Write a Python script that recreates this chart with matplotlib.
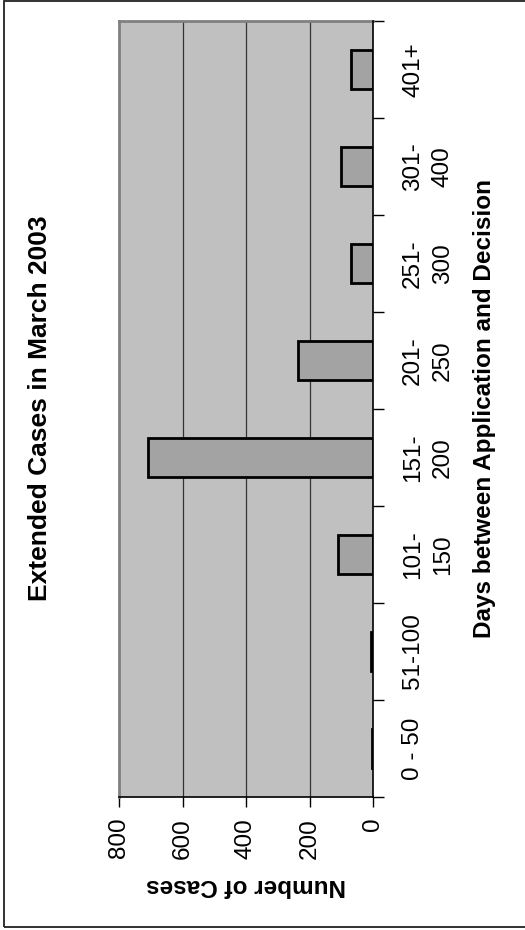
import matplotlib
matplotlib.use("Agg")
import matplotlib.pyplot as plt
from matplotlib.patches import Rectangle
from matplotlib.ticker import FixedLocator
import numpy as np

plt.rcParams['font.family'] = ['Liberation Sans', 'DejaVu Sans']

# Day ranges between application and decision, and number of cases
categories = ["0 - 50", "51-100", "101-\n150", "151-\n200", "201-\n250",
              "251-\n300", "301-\n400", "401+"]
cases = [4, 5, 110, 710, 237, 68, 100, 68]
value_ticks = [0, 200, 400, 600, 800]
value_tick_labels = ["0", "200", "400", "600", "800"]

W, H = 525, 930
fig = plt.figure(figsize=(W / 100, H / 100), dpi=100)
fig.patch.set_facecolor("white")

# Outer frame of the page (open on the right)
fig.add_artist(Rectangle((4 / W, 1 - 927 / H), 1.0, (927 - 1) / H,
                         transform=fig.transFigure, fill=False,
                         edgecolor="#222222", linewidth=1.3))

left, right, top, bottom = 119, 373, 21, 797
ax = fig.add_axes([left / W, 1 - bottom / H, (right - left) / W, (bottom - top) / H])
ax.set_facecolor("#C0C0C0")

pos = np.arange(len(categories))
ax.barh(pos, cases, height=0.4, color="#A3A3A3", edgecolor="black",
        linewidth=2.0, zorder=3)

ax.set_xlim(800, 0)
ax.set_ylim(-0.5, len(categories) - 0.5)

# Gridlines
for v in value_ticks[1:-1]:
    ax.axvline(v, color="#333333", linewidth=0.9, zorder=1)

# Spines: value axis and zero line black, plot-area border grey
for s in ["left", "top"]:
    ax.spines[s].set_color("#808080")
    ax.spines[s].set_linewidth(2.0)
for s in ["right", "bottom"]:
    ax.spines[s].set_color("black")
    ax.spines[s].set_linewidth(1.2)
ax.spines["right"].set_zorder(4)

# Value axis (bottom)
ax.set_xticks(value_ticks)
ax.set_xticklabels(value_tick_labels, rotation=90, va="top", ha="center",
                   fontsize=17.5)
ax.tick_params(axis="x", direction="out", length=7, width=1.0, pad=8)

# Category axis (right side)
ax.yaxis.tick_right()
ax.yaxis.set_major_locator(FixedLocator(np.arange(-0.5, len(categories), 1.0)))
ax.yaxis.set_minor_locator(FixedLocator(pos))
ax.tick_params(axis="y", which="major", direction="out", length=8, width=1.0,
               labelright=False)
ax.tick_params(axis="y", which="minor", length=0, pad=21)
for lbl, txt in zip(ax.set_yticklabels(categories, minor=True, rotation=90,
                                       fontsize=17.5, va="center", ha="left",
                                       multialignment="center"), categories):
    lbl.set_linespacing(1.45)

# Titles and axis labels
fig.text(40 / W, 1 - 408 / H, "Extended Cases in March 2003", rotation=90,
         ha="center", va="center", fontsize=19, fontweight="bold")
fig.text(484 / W, 1 - 409 / H, "Days between Application and Decision",
         rotation=90, ha="center", va="center", fontsize=17.5, fontweight="bold")
fig.text(246 / W, 1 - 885 / H, "Number of Cases", rotation=180,
         ha="center", va="center", fontsize=17.5, fontweight="bold")

fig.savefig("out.png", dpi=100)
